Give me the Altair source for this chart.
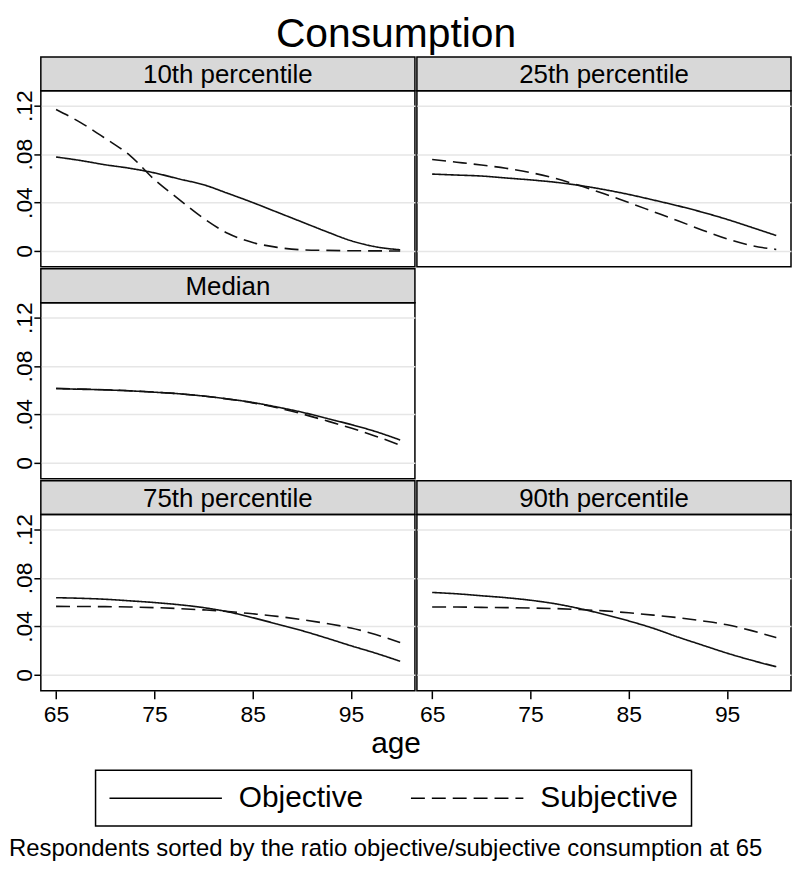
import altair as alt
import pandas as pd

FONT = "Liberation Sans"

title_text = "Consumption"
x_title = "age"
note_text = "Respondents sorted by the ratio objective/subjective consumption at 65"

ages = [65, 67.5, 70, 72.5, 75, 77.5, 80, 82.5, 85, 87.5, 90, 92.5, 95, 97.5, 100]
series_names = ["Objective", "Subjective"]
panel_names = ["10th percentile", "25th percentile", "Median", "75th percentile", "90th percentile"]

p10_obj = [0.0776, 0.0747, 0.0712, 0.0683, 0.0645, 0.0595, 0.0547, 0.0475, 0.0400, 0.0320, 0.0240, 0.0160, 0.0085, 0.0035, 0.0010]
p10_subj = [0.1168, 0.1060, 0.0930, 0.0790, 0.0590, 0.0427, 0.0270, 0.0144, 0.0070, 0.0030, 0.0010, 0.0005, 0.0002, 0.0001, 0.0000]
p25_obj = [0.0635, 0.0627, 0.0619, 0.0603, 0.0587, 0.0568, 0.0541, 0.0507, 0.0467, 0.0421, 0.0373, 0.0320, 0.0261, 0.0195, 0.0128]
p25_subj = [0.0755, 0.0733, 0.0710, 0.0683, 0.0648, 0.0600, 0.0540, 0.0472, 0.0400, 0.0325, 0.0250, 0.0172, 0.0100, 0.0045, 0.0013]
p50_obj = [0.0613, 0.0608, 0.0603, 0.0595, 0.0584, 0.0571, 0.0552, 0.0528, 0.0499, 0.0461, 0.0419, 0.0368, 0.0317, 0.0259, 0.0189]
p50_subj = [0.0616, 0.0610, 0.0604, 0.0596, 0.0585, 0.0571, 0.0552, 0.0527, 0.0496, 0.0455, 0.0405, 0.0348, 0.0288, 0.0221, 0.0147]
p75_obj = [0.0637, 0.0632, 0.0624, 0.0611, 0.0597, 0.0579, 0.0555, 0.0520, 0.0472, 0.0419, 0.0365, 0.0304, 0.0240, 0.0179, 0.0112]
p75_subj = [0.0565, 0.0564, 0.0563, 0.0560, 0.0555, 0.0547, 0.0536, 0.0523, 0.0504, 0.0483, 0.0456, 0.0424, 0.0387, 0.0333, 0.0267]
p90_obj = [0.0680, 0.0669, 0.0653, 0.0637, 0.0616, 0.0587, 0.0547, 0.0499, 0.0445, 0.0384, 0.0312, 0.0245, 0.0179, 0.0120, 0.0067]
p90_subj = [0.0560, 0.0560, 0.0557, 0.0555, 0.0552, 0.0547, 0.0539, 0.0528, 0.0512, 0.0493, 0.0472, 0.0445, 0.0413, 0.0365, 0.0307]

x_ticks = [65, 75, 85, 95]
y_ticks = [0, 0.04, 0.08, 0.12]
y_tick_labels = ["0", ".04", ".08", ".12"]

W = 376
STRIP_H = 34
PLOT_H = 177
X_DOMAIN = [63.45, 101.5]
Y_DOMAIN = [-0.0131, 0.1323]
GRID = "#e6e6e6"
STRIP_FILL = "#d8d8d8"
LINE_COLOR = "#111111"

y_label_expr = "".join(
    f"abs(datum.value - {v}) < 0.001 ? '{lab}' : " for v, lab in zip(y_ticks, y_tick_labels)
) + "''"

dash = alt.StrokeDash(
    "series:N",
    scale=alt.Scale(domain=series_names, range=[[1, 0], [14, 7]]),
    legend=alt.Legend(
        title=None, orient="none", legendX=55, legendY=717, direction="horizontal",
        symbolType="stroke", symbolSize=12769, clipHeight=30,
        symbolStrokeWidth=1.5, symbolStrokeColor="black",
        labelFontSize=30, labelFont=FONT, labelColor="black", labelOffset=16,
        columnPadding=46, padding=13, strokeColor="black",
    ),
)


def panel(name, obj, subj, left, bottom):
    df = pd.DataFrame({
        "age": ages + ages,
        "value": obj + subj,
        "series": [series_names[0]] * len(ages) + [series_names[1]] * len(ages),
    })
    strip = alt.Chart(pd.DataFrame({"label": [name]})).mark_text(
        font=FONT, fontSize=26, color="black", baseline="alphabetic", align="center"
    ).encode(
        text="label:N", x=alt.value(W / 2), y=alt.value(26)
    ).properties(
        width=W, height=STRIP_H,
        view=alt.ViewBackground(fill=STRIP_FILL, stroke="black", strokeWidth=1.5),
    )
    if left:
        yaxis = alt.Axis(
            values=y_ticks, labelExpr=y_label_expr, labelAngle=270, labelAlign="center",
            labelBaseline="alphabetic", labelFontSize=23, labelFont=FONT, labelColor="black",
            labelPadding=2, labelFlush=False, tickSize=7, tickColor="black", tickWidth=1.5,
            domain=False, grid=True, gridColor=GRID, gridWidth=1.5, title=None,
        )
    else:
        yaxis = alt.Axis(
            values=y_ticks, labels=False, ticks=False, domain=False, grid=True,
            gridColor=GRID, gridWidth=1.5, title=None,
        )
    if bottom:
        xaxis = alt.Axis(
            values=x_ticks, format="d", labelFontSize=23, labelFont=FONT, labelColor="black",
            labelPadding=5, labelFlush=False, tickSize=8, tickColor="black", tickWidth=1.5,
            domain=False, grid=False, title=None,
        )
    else:
        xaxis = None
    plot = alt.Chart(df).mark_line(color=LINE_COLOR, strokeWidth=1.6, interpolate="monotone").encode(
        x=alt.X("age:Q", scale=alt.Scale(domain=X_DOMAIN, nice=False, zero=False), axis=xaxis),
        y=alt.Y("value:Q", scale=alt.Scale(domain=Y_DOMAIN, nice=False, zero=False), axis=yaxis),
        strokeDash=dash,
        detail="series:N",
    ).properties(
        width=W, height=PLOT_H,
        view=alt.ViewBackground(stroke="black", strokeWidth=1.5),
    )
    return alt.vconcat(strip, plot, spacing=0, bounds="flush")


row1 = alt.hconcat(
    panel(panel_names[0], p10_obj, p10_subj, True, False),
    panel(panel_names[1], p25_obj, p25_subj, False, False),
    spacing=0,
)
row2 = panel(panel_names[2], p50_obj, p50_subj, True, False)
row3 = alt.hconcat(
    panel(panel_names[3], p75_obj, p75_subj, True, True),
    panel(panel_names[4], p90_obj, p90_subj, False, True),
    spacing=0,
)

FOOT_H = 128
footer = alt.layer(
    alt.Chart(pd.DataFrame({"t": [x_title]})).mark_text(
        font=FONT, fontSize=30, color="black", align="center", baseline="alphabetic"
    ).encode(text="t:N", x=alt.value(357), y=alt.value(25)),
    alt.Chart(pd.DataFrame({"t": [note_text]})).mark_text(
        font=FONT, fontSize=24, color="black", align="left", baseline="alphabetic"
    ).encode(text="t:N", x=alt.value(-32), y=alt.value(FOOT_H)),
).properties(width=2 * W, height=FOOT_H, view=alt.ViewBackground(stroke="transparent"))

chart = alt.vconcat(
    row1, row2, row3, footer,
    spacing=0,
    title=alt.TitleParams(
        text=title_text, fontSize=41, font=FONT, fontWeight="normal", color="black",
        anchor="middle", offset=0, dx=-4,
    ),
).properties(
    padding={"top": 4, "left": 0, "right": 0, "bottom": 0}
).configure_view(stroke="black", strokeWidth=1.5).configure_legend(strokeWidth=1.5)

chart.save("out.html", embed_options={"renderer": "svg", "actions": False})
